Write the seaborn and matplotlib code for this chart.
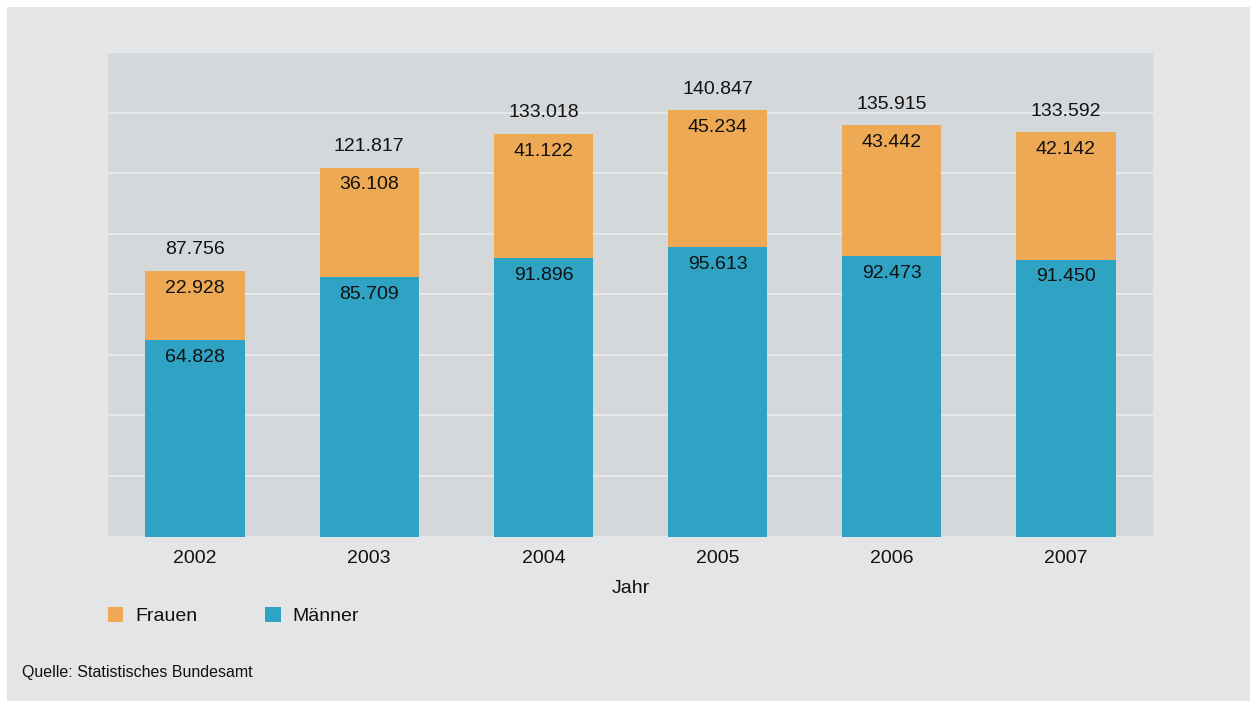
import matplotlib
matplotlib.use("Agg")
import matplotlib.pyplot as plt
from matplotlib.patches import Patch, Rectangle
import seaborn as sns
import pandas as pd

years = ["2002", "2003", "2004", "2005", "2006", "2007"]
maenner = [64828, 85709, 91896, 95613, 92473, 91450]
frauen = [22928, 36108, 41122, 45234, 43442, 42142]
gesamt = [87756, 121817, 133018, 140847, 135915, 133592]

ORANGE = "#EEA955"
TEAL = "#2FA3C4"
PANEL = "#E4E5E7"
PLOTBG = "#D5D8DB"
GRID = "#E7E8EA"
INK = "#111111"
FS = 14

sns.set_theme(style="white")
plt.rcParams["font.family"] = ["Liberation Sans Narrow", "Liberation Sans", "DejaVu Sans"]

df = pd.DataFrame({"Jahr": years, "Männer": maenner, "Frauen": frauen, "Gesamt": gesamt})

def fmt(v):
    return f"{v:,}".replace(",", ".")

fig = plt.figure(figsize=(12.5, 7.01), dpi=100, facecolor="white")
fig.patches.append(Rectangle((7 / 1250, 0), 1 - 7 / 1250, 1 - 7 / 701,
                             transform=fig.transFigure, facecolor=PANEL,
                             edgecolor="none", zorder=-10))

ax = fig.add_axes([108 / 1250, 164.5 / 701, 1045 / 1250, 484.5 / 701])
ax.set_facecolor(PLOTBG)

# stacked bars: full total in orange, men's share drawn over it in teal
sns.barplot(data=df, x="Jahr", y="Gesamt", color=ORANGE, width=0.57,
            saturation=1, ax=ax, zorder=3, edgecolor="none", linewidth=0)
sns.barplot(data=df, x="Jahr", y="Männer", color=TEAL, width=0.57,
            saturation=1, ax=ax, zorder=4, edgecolor="none", linewidth=0)

ax.set_ylim(0, 160000)
ax.set_xlim(-0.5, len(years) - 0.5)
ax.set_yticks(range(0, 160001, 20000))
ax.yaxis.grid(True, color=GRID, linewidth=1.5, zorder=0)
ax.set_axisbelow(True)
ax.tick_params(axis="y", left=False, labelleft=False)
ax.tick_params(axis="x", bottom=False, labelsize=FS, pad=4, colors=INK)
for s in ax.spines.values():
    s.set_visible(False)
ax.set_ylabel("")
ax.set_xlabel("Jahr", fontsize=FS, labelpad=9, color=INK)

for i, (m, f, g) in enumerate(zip(maenner, frauen, gesamt)):
    ax.annotate(fmt(g), (i, g), xytext=(0, 15), textcoords="offset points",
                ha="center", va="center", fontsize=FS, color=INK, zorder=6)
    ax.annotate(fmt(f), (i, g), xytext=(0, -12.5), textcoords="offset points",
                ha="center", va="center", fontsize=FS, color=INK, zorder=6)
    ax.annotate(fmt(m), (i, m), xytext=(0, -12.5), textcoords="offset points",
                ha="center", va="center", fontsize=FS, color=INK, zorder=6)

handles = [Patch(facecolor=ORANGE, edgecolor="none", label="Frauen"),
           Patch(facecolor=TEAL, edgecolor="none", label="Männer")]
fig.legend(handles=handles, loc="center left", bbox_to_anchor=(108 / 1250, 1 - 616 / 701),
           ncol=2, frameon=False, fontsize=FS, handlelength=0.78, handleheight=0.78,
           handletextpad=0.62, columnspacing=3.5, borderpad=0, borderaxespad=0,
           labelcolor=INK)

fig.text(22 / 1250, 1 - 673 / 701, "Quelle: Statistisches Bundesamt",
         fontsize=11.5, ha="left", va="center", color=INK)

fig.savefig("out.png", dpi=100, facecolor=fig.get_facecolor())
